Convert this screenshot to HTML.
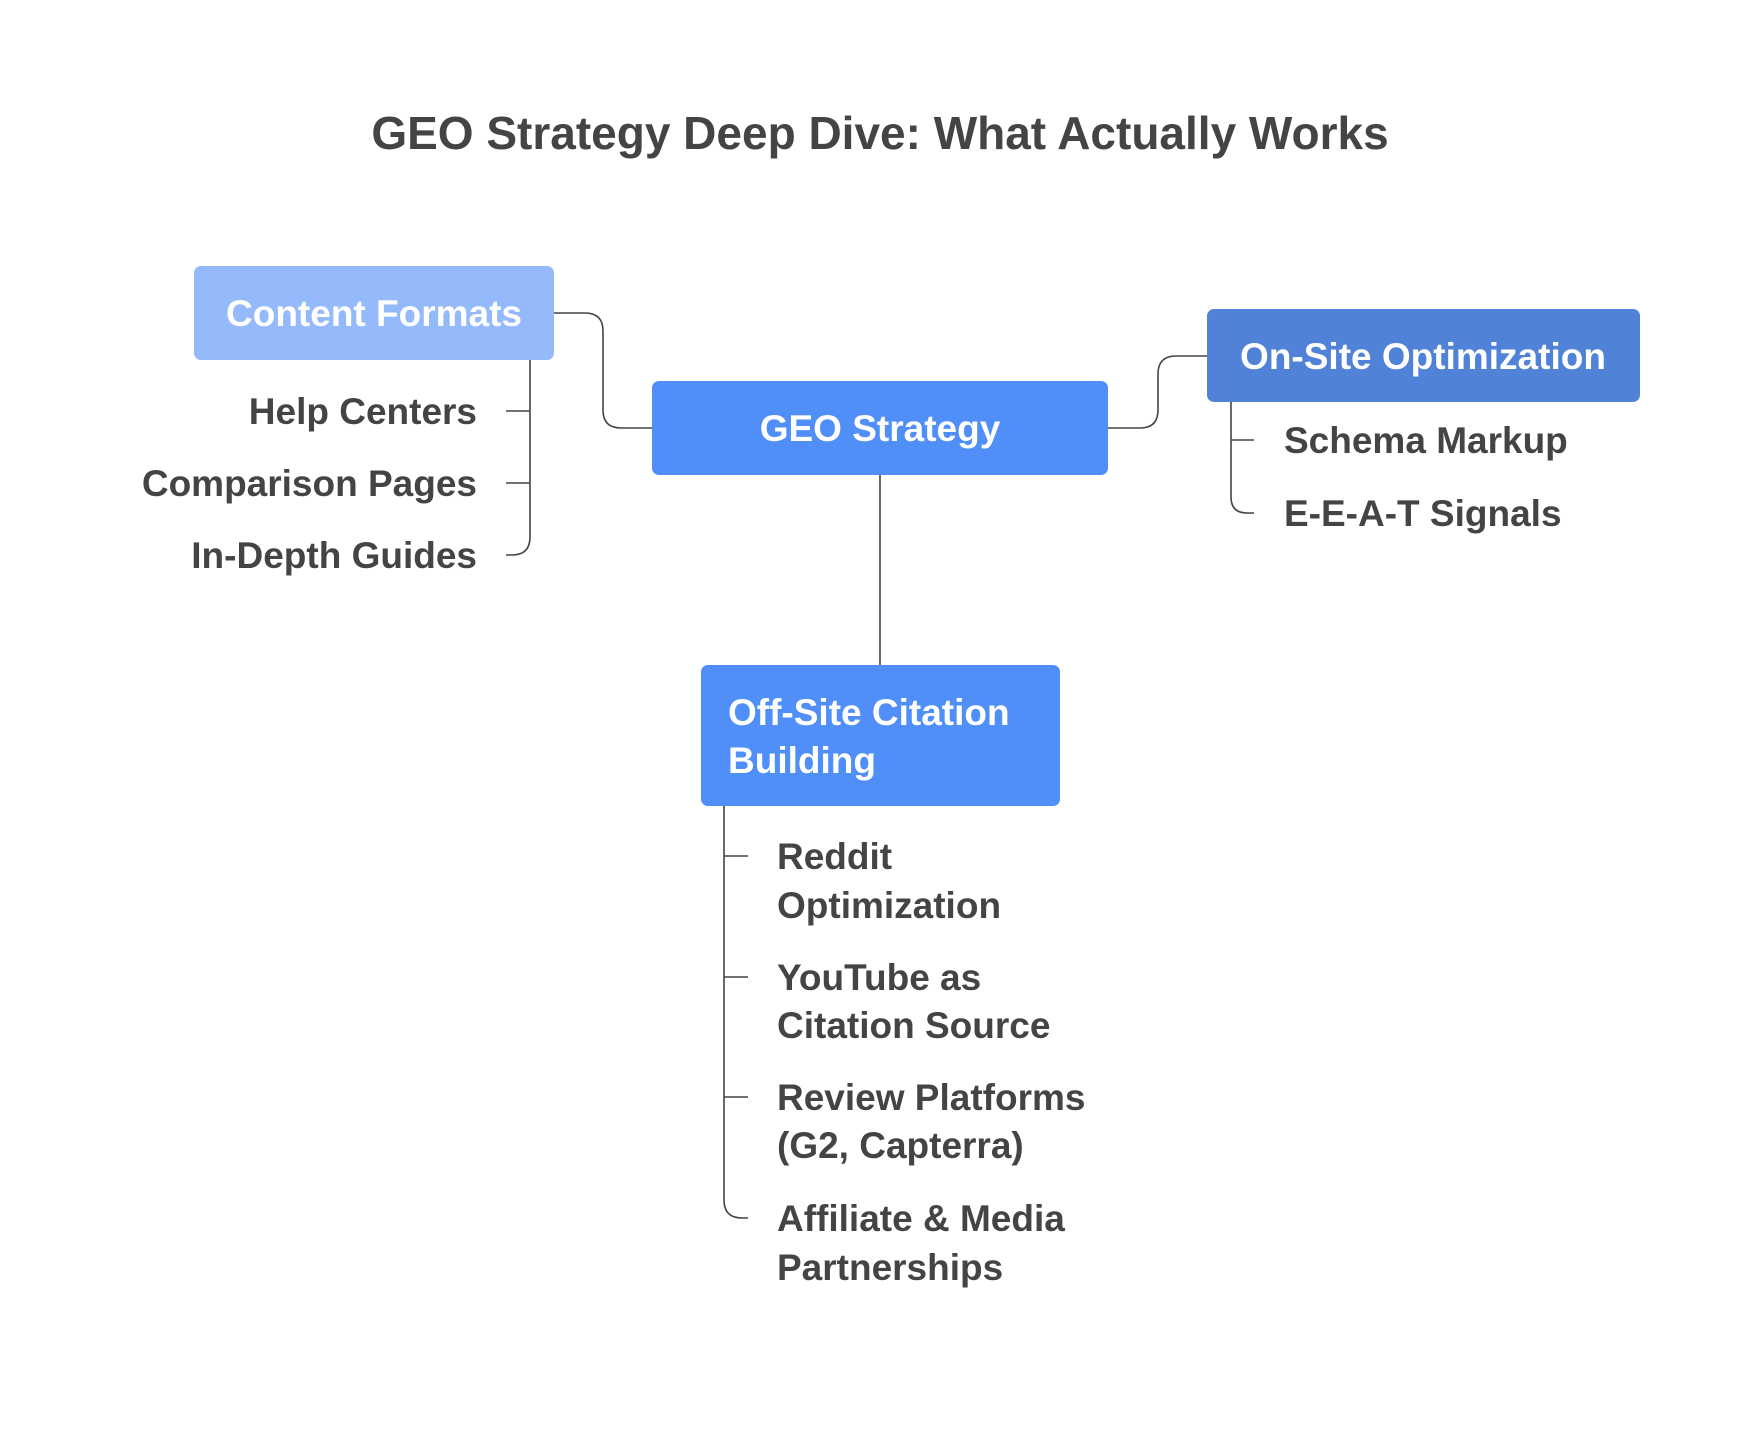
<!DOCTYPE html>
<html><head><meta charset="utf-8"><style>
html,body{margin:0;padding:0;background:#fff;}
svg{display:block;}
text{font-family:"Liberation Sans",Arial,sans-serif;font-weight:bold;}
</style></head><body>
<svg width="1752" height="1440" viewBox="0 0 1752 1440" xmlns="http://www.w3.org/2000/svg">
<rect width="1752" height="1440" fill="#fff"/>
<text x="880" y="149" text-anchor="middle" font-size="46" fill="#444">GEO Strategy Deep Dive: What Actually Works</text>

<g fill="none" stroke="#444" stroke-width="1.6">
  <path d="M554 313 H585 Q603 313 603 331 V410 Q603 428 621 428 H652"/>
  <path d="M1108 428 H1140 Q1158 428 1158 410 V374 Q1158 356 1176 356 H1207"/>
  <path d="M880 475 V665"/>
  <path d="M530 360 V537 Q530 555 512 555 H506"/>
  <path d="M506 411 H530 M506 483 H530"/>
  <path d="M1231 402 V497 Q1231 513 1247 513 H1254"/>
  <path d="M1231 440 H1254"/>
  <path d="M724 806 V1200 Q724 1218 742 1218 H748"/>
  <path d="M724 856 H748 M724 977 H748 M724 1097 H748"/>
</g>

<rect x="194" y="266" width="360" height="94" rx="7" fill="#94bafc"/>
<text x="374" y="326" text-anchor="middle" font-size="37" fill="#fff">Content Formats</text>

<rect x="652" y="381" width="456" height="94" rx="7" fill="#4f8ff7"/>
<text x="880" y="441" text-anchor="middle" font-size="37" fill="#fff">GEO Strategy</text>

<rect x="1207" y="309" width="433" height="93" rx="7" fill="#5082d8"/>
<text x="1423" y="369" text-anchor="middle" font-size="37" fill="#fff">On-Site Optimization</text>

<rect x="701" y="665" width="359" height="141" rx="7" fill="#4f8ff7"/>
<text x="728" y="725" font-size="37" fill="#fff">Off-Site Citation</text>
<text x="728" y="773" font-size="37" fill="#fff">Building</text>

<g font-size="37" fill="#444">
  <text x="477" y="424" text-anchor="end">Help Centers</text>
  <text x="477" y="496" text-anchor="end">Comparison Pages</text>
  <text x="477" y="568" text-anchor="end">In-Depth Guides</text>
  <text x="1284" y="453">Schema Markup</text>
  <text x="1284" y="526">E-E-A-T Signals</text>
  <text x="777" y="869">Reddit</text>
  <text x="777" y="918">Optimization</text>
  <text x="777" y="990">YouTube as</text>
  <text x="777" y="1038">Citation Source</text>
  <text x="777" y="1110">Review Platforms</text>
  <text x="777" y="1158">(G2, Capterra)</text>
  <text x="777" y="1231">Affiliate &amp; Media</text>
  <text x="777" y="1280">Partnerships</text>
</g>
</svg>
</body></html>
